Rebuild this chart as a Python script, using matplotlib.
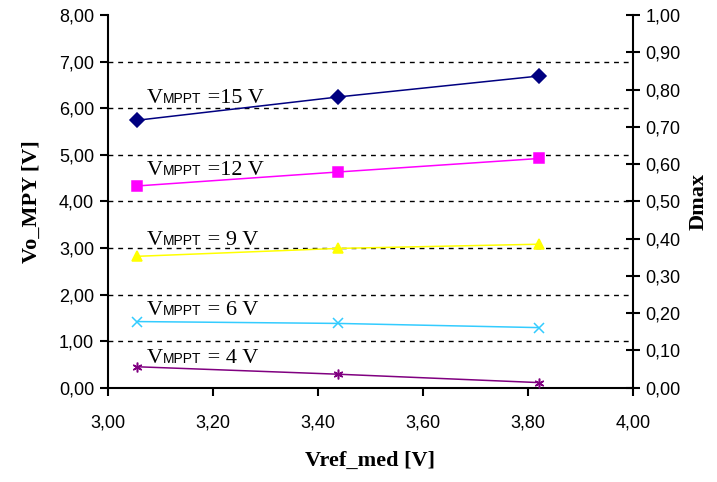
import matplotlib
matplotlib.use("Agg")
import matplotlib.pyplot as plt
from matplotlib.ticker import MultipleLocator, FuncFormatter

x_vals = [3.055, 3.438, 3.821]
v15 = [5.74, 6.24, 6.69]
v12 = [4.33, 4.63, 4.92]
v9 = [2.82, 2.99, 3.08]
v6 = [1.42, 1.38, 1.29]
v4 = [0.45, 0.29, 0.11]

series = [
    (v15, "#000080", "D", "15"),
    (v12, "#FF00FF", "s", "12"),
    (v9, "#FFFF00", "^", "9"),
    (v6, "#33CCFF", "x", "6"),
    (v4, "#800080", (6, 2, 0), "4"),
]
label_texts = ["=15 V", "=12 V", "= 9 V", "= 6 V", "= 4 V"]
label_pos = [(3.073, 6.11), (3.073, 4.57), (3.073, 3.06), (3.073, 1.56), (3.073, 0.54)]

fig = plt.figure(figsize=(7.17, 4.82), dpi=100)
ax = fig.add_axes([0.1506, 0.1956, 0.7322, 0.7733])
ax.set_xlim(3.0, 4.0)
ax.set_ylim(0, 8)

for yv in range(1, 8):
    ax.axhline(yv, color="black", lw=1.0, ls=(0, (3.5, 3.5)), zorder=1)

for (vals, col, mk, name) in series:
    ax.plot(x_vals, vals, color=col, lw=1.1, marker=mk, markersize=7,
            markeredgewidth=1.1, markerfacecolor=col, markeredgecolor=col, zorder=3)

fmt = FuncFormatter(lambda v, p: f"{v:.2f}".replace(".", ","))
ax.xaxis.set_major_locator(MultipleLocator(0.2))
ax.yaxis.set_major_locator(MultipleLocator(1))
ax.xaxis.set_major_formatter(fmt)
ax.yaxis.set_major_formatter(fmt)
for lab in ax.get_xticklabels() + ax.get_yticklabels():
    lab.set_fontfamily("Liberation Sans")
    lab.set_fontsize(13)
ax.tick_params(axis="both", direction="out", length=6, width=1.5, colors="black")
ax.tick_params(axis="x", pad=13)
ax.tick_params(axis="y", pad=4)
ax.spines["top"].set_visible(False)
ax.spines["right"].set_visible(False)
ax.spines["left"].set_linewidth(1.5)
ax.spines["bottom"].set_linewidth(1.5)

ax2 = ax.twinx()
ax2.set_ylim(0, 1)
ax2.yaxis.set_major_locator(MultipleLocator(0.1))
ax2.yaxis.set_major_formatter(fmt)
for lab in ax2.get_yticklabels():
    lab.set_fontfamily("Liberation Sans")
    lab.set_fontsize(13)
ax2.tick_params(axis="y", direction="inout", length=10, width=1.5, pad=4)
ax2.spines["top"].set_visible(False)
ax2.spines["left"].set_visible(False)
ax2.spines["bottom"].set_visible(False)
ax2.spines["right"].set_linewidth(1.5)

ax.set_xlabel("Vref_med [V]", fontfamily="Liberation Serif", fontweight="bold", fontsize=16, labelpad=14)
ax.set_ylabel("Vo_MPY [V]", fontfamily="Liberation Serif", fontweight="bold", fontsize=16, labelpad=12)
ax2.set_ylabel("Dmax", fontfamily="Liberation Serif", fontweight="bold", fontsize=16, labelpad=6)

fig.canvas.draw()
renderer = fig.canvas.get_renderer()
for (lx, ly), txt in zip(label_pos, label_texts):
    t1 = ax.annotate("V", (lx, ly), xytext=(0, 0), textcoords="offset points",
                     fontfamily="Liberation Serif", fontsize=16, va="baseline", ha="left", zorder=4)
    w1 = t1.get_window_extent(renderer).width * 72 / fig.dpi
    t2 = ax.annotate("MPPT", (lx, ly), xytext=(w1 + 0.5, 0), textcoords="offset points",
                     fontfamily="Liberation Sans", fontsize=10, va="baseline", ha="left", zorder=4)
    w2 = t2.get_window_extent(renderer).width * 72 / fig.dpi
    ax.annotate(" " + txt, (lx, ly), xytext=(w1 + w2 + 0.5, 0), textcoords="offset points",
                fontfamily="Liberation Serif", fontsize=16, va="baseline", ha="left", zorder=4)

fig.savefig("out.png", dpi=100)
